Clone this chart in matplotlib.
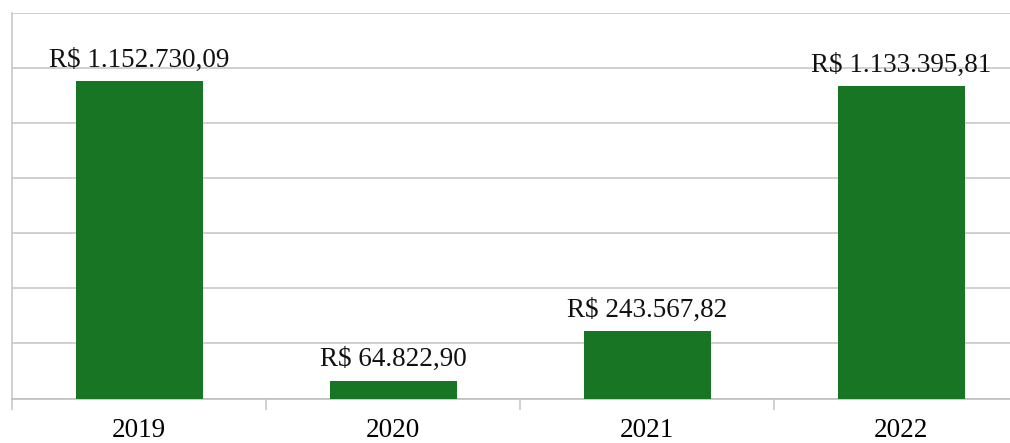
import matplotlib
matplotlib.use('Agg')
import matplotlib.pyplot as plt
import numpy as np

anos = ['2019', '2020', '2021', '2022']
valores = [1152730.09, 64822.90, 243567.82, 1133395.81]
rotulos = ['R$ 1.152.730,09', 'R$ 64.822,90', 'R$ 243.567,82', 'R$ 1.133.395,81']

plt.rcParams['font.family'] = ['Liberation Serif', 'DejaVu Serif']

fig = plt.figure(figsize=(10.1, 4.43), dpi=100)
ax = fig.add_axes([12/1010, 44.5/443, 1016/1010, 385.5/443])

x = np.arange(len(anos))
bars = ax.bar(x, valores, width=0.5, color='#177524', zorder=3)

for b, r in zip(bars, rotulos):
    ax.annotate(r, (b.get_x() + b.get_width()/2, b.get_height()),
                xytext=(0, 6), textcoords='offset points',
                ha='center', va='bottom', fontsize=19.5, color='#111111', zorder=4)

ax.set_xlim(-0.5, 3.5)
ax.set_ylim(0, 1400000)
ax.set_yticks(np.arange(0, 1400001, 200000))
ax.yaxis.grid(True, color='#c8c8c8', linewidth=1.2)
ax.set_axisbelow(True)
ax.tick_params(axis='y', left=False, labelleft=False)

ax.set_xticks(x)
ax.set_xticklabels(anos, fontsize=19.5)
ax.set_xticks(np.arange(-0.5, 4, 1), minor=True)
ax.tick_params(axis='x', which='major', length=0, pad=14)
ax.tick_params(axis='x', which='minor', length=8, width=1.2, color='#c8c8c8')

for s in ['top', 'right']:
    ax.spines[s].set_visible(False)
ax.spines['left'].set_color('#c8c8c8')
ax.spines['left'].set_linewidth(1.2)
ax.spines['bottom'].set_color('#c0c0c0')
ax.spines['bottom'].set_linewidth(1.2)

fig.savefig('out.png', dpi=100)
